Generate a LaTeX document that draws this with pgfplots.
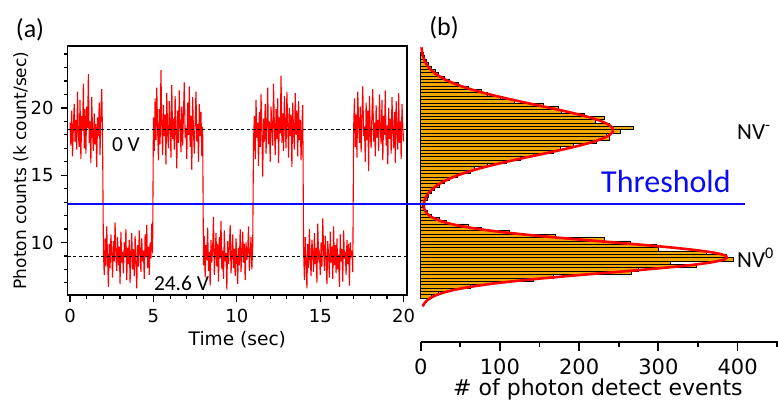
\documentclass[border=0pt]{standalone}
\usepackage{pgfplots}
\pgfplotsset{compat=1.18}
\usepackage{pgfplotstable}
\usepackage{fontspec}
\setmainfont{Carlito}
\newfontfamily\dv{DejaVu Sans}
\definecolor{barorange}{RGB}{240,168,0}
\definecolor{thrblue}{RGB}{10,10,245}

% histogram of photon counts (bin centre, events)
\pgfplotstableread{
y n
6.00 14
6.25 22
6.50 38
6.75 62
7.00 92
7.25 142
7.50 168
7.75 266
8.00 275
8.25 348
8.50 315
8.75 394
9.00 386
9.25 360
9.50 300
9.75 298
10.00 265
10.25 232
10.50 170
10.75 112
11.00 76
11.25 60
11.50 32
11.75 24
12.00 14
12.25 8
12.50 4
12.75 2
13.00 5
13.25 8
13.50 10
13.75 13
14.00 17
14.25 24
14.50 30
14.75 36
15.00 46
15.25 62
15.50 68
15.75 84
16.00 108
16.25 126
16.50 142
16.75 168
17.00 176
17.25 192
17.50 222
17.75 238
18.00 234
18.25 252
18.50 268
18.75 238
19.00 220
19.25 232
19.50 206
19.75 178
20.00 174
20.25 155
20.50 118
20.75 100
21.00 84
21.25 76
21.50 60
21.75 48
22.00 36
22.25 30
22.50 22
22.75 18
23.00 13
23.25 9
23.50 7
23.75 4
24.00 3
}\histdata

\begin{document}
\begin{tikzpicture}
\useasboundingbox (0,0) rectangle (389pt,200pt);

% (a) photon count trace
\begin{axis}[
  at={(33.85pt,52.5pt)}, anchor=south west,
  scale only axis, width=169.65pt, height=124.5pt,
  xmin=-0.14, xmax=20.2, ymin=6.1, ymax=24.6,
  xtick={0,5,10,15,20},
  minor xtick={1,2,3,4,6,7,8,9,11,12,13,14,16,17,18,19},
  ytick={10,15,20},
  minor ytick={7,8,9,11,12,13,14,16,17,18,19,21,22,23,24},
  tick align=outside, xtick pos=bottom, ytick pos=left,
  major tick length=3.5pt, minor tick length=2pt,
  axis line style={line width=0.7pt},
  every tick/.style={black, line width=0.6pt},
  ticklabel style={font=\dv\fontsize{9}{10}\selectfont},
  /pgf/number format/assume math mode=true,
  xlabel={Time (sec)}, ylabel={Photon counts (k count/sec)},
  xlabel style={font=\dv\fontsize{9.3}{11}\selectfont, at={(axis description cs:0.5,-0.178)}, anchor=center},
  ylabel style={font=\dv\fontsize{8.5}{10}\selectfont, at={(axis description cs:-0.1385,0.5)}, anchor=center},
  clip=false,
]
\addplot[red, line width=0.55pt] coordinates {
(0.00,18.9)(0.05,17.2)(0.10,19.8)(0.15,16.4)(0.20,18.6)(0.25,20.3)(0.30,17.5)(0.35,19.1)(0.40,16.9)(0.45,21.2)
(0.50,18.0)(0.55,17.1)(0.60,20.6)(0.65,16.2)(0.70,19.4)(0.75,18.3)(0.80,21.8)(0.85,17.0)(0.90,19.9)(0.95,16.6)
(1.00,20.1)(1.05,18.5)(1.10,22.5)(1.15,17.4)(1.20,19.0)(1.25,15.9)(1.30,20.8)(1.35,18.2)(1.40,16.8)(1.45,19.6)
(1.50,17.3)(1.55,18.8)(1.60,15.6)(1.65,19.3)(1.70,17.9)(1.75,20.4)(1.80,16.5)(1.85,19.7)(1.90,21.4)(1.95,17.8)
(2.00,9.4)(2.05,7.6)(2.10,10.3)(2.15,8.2)(2.20,11.2)(2.25,8.8)(2.30,6.7)(2.35,9.9)(2.40,8.1)(2.45,10.6)
(2.50,9.2)(2.55,7.4)(2.60,10.1)(2.65,8.6)(2.70,11.5)(2.75,9.0)(2.80,7.9)(2.85,10.4)(2.90,8.3)(2.95,9.7)
(3.00,6.9)(3.05,10.8)(3.10,8.5)(3.15,9.3)(3.20,7.7)(3.25,10.0)(3.30,8.9)(3.35,11.0)(3.40,7.2)(3.45,9.6)
(3.50,8.4)(3.55,10.2)(3.60,7.0)(3.65,9.1)(3.70,10.7)(3.75,8.0)(3.80,9.5)(3.85,7.5)(3.90,10.5)(3.95,8.7)
(4.00,6.6)(4.05,9.8)(4.10,8.2)(4.15,10.9)(4.20,9.3)(4.25,7.8)(4.30,10.3)(4.35,8.6)(4.40,9.4)(4.45,7.3)
(4.50,10.6)(4.55,8.9)(4.60,11.3)(4.65,8.1)(4.70,9.7)(4.75,7.6)(4.80,10.0)(4.85,8.8)(4.90,11.4)(4.95,9.2)
(5.00,19.3)(5.05,16.8)(5.10,20.7)(5.15,17.6)(5.20,21.5)(5.25,18.4)(5.30,16.1)(5.35,19.9)(5.40,17.3)(5.45,22.8)
(5.50,18.7)(5.55,16.5)(5.60,20.2)(5.65,17.9)(5.70,19.5)(5.75,15.8)(5.80,21.1)(5.85,18.1)(5.90,17.0)(5.95,20.5)
(6.00,18.9)(6.05,16.3)(6.10,21.7)(6.15,17.7)(6.20,19.2)(6.25,16.9)(6.30,20.9)(6.35,18.3)(6.40,15.5)(6.45,19.8)
(6.50,17.4)(6.55,21.3)(6.60,18.6)(6.65,16.7)(6.70,20.1)(6.75,17.2)(6.80,19.6)(6.85,21.9)(6.90,17.8)(6.95,18.5)
(7.00,16.2)(7.05,20.4)(7.10,18.0)(7.15,21.6)(7.20,17.1)(7.25,19.4)(7.30,15.4)(7.35,20.8)(7.40,18.2)(7.45,16.6)
(7.50,19.0)(7.55,21.2)(7.60,17.5)(7.65,18.8)(7.70,16.0)(7.75,20.3)(7.80,17.9)(7.85,19.7)(7.90,16.4)(7.95,18.6)
(8.00,8.3)(8.05,10.5)(8.10,7.4)(8.15,9.8)(8.20,8.7)(8.25,11.1)(8.30,7.9)(8.35,9.3)(8.40,6.8)(8.45,10.2)
(8.50,8.5)(8.55,9.6)(8.60,11.9)(8.65,7.6)(8.70,9.1)(8.75,10.7)(8.80,8.2)(8.85,9.9)(8.90,7.1)(8.95,10.4)
(9.00,8.8)(9.05,11.6)(9.10,8.0)(9.15,9.4)(9.20,7.3)(9.25,10.9)(9.30,8.6)(9.35,9.2)(9.40,6.5)(9.45,10.1)
(9.50,8.4)(9.55,9.7)(9.60,11.3)(9.65,7.7)(9.70,9.0)(9.75,10.6)(9.80,8.1)(9.85,9.5)(9.90,7.5)(9.95,10.3)
(10.00,8.9)(10.05,6.9)(10.10,9.6)(10.15,8.3)(10.20,11.0)(10.25,7.8)(10.30,9.2)(10.35,10.8)(10.40,8.5)(10.45,9.9)
(10.50,7.2)(10.55,10.0)(10.60,8.7)(10.65,9.4)(10.70,11.2)(10.75,7.9)(10.80,9.1)(10.85,10.4)(10.90,8.0)(10.95,9.6)
(11.00,17.6)(11.05,19.4)(11.10,16.2)(11.15,20.6)(11.20,17.8)(11.25,18.9)(11.30,15.7)(11.35,19.7)(11.40,17.1)(11.45,21.0)
(11.50,18.3)(11.55,14.9)(11.60,19.2)(11.65,17.5)(11.70,20.3)(11.75,16.6)(11.80,18.7)(11.85,21.5)(11.90,17.3)(11.95,19.0)
(12.00,16.0)(12.05,20.1)(12.10,18.4)(12.15,17.2)(12.20,21.8)(12.25,18.6)(12.30,16.5)(12.35,19.9)(12.40,17.7)(12.45,20.7)
(12.50,15.9)(12.55,19.3)(12.60,18.1)(12.65,22.4)(12.70,17.4)(12.75,19.6)(12.80,16.8)(12.85,20.9)(12.90,18.5)(12.95,17.0)
(13.00,21.2)(13.05,18.8)(13.10,16.3)(13.15,20.0)(13.20,17.9)(13.25,19.5)(13.30,15.6)(13.35,20.4)(13.40,18.2)(13.45,16.9)
(13.50,21.1)(13.55,18.0)(13.60,19.8)(13.65,16.4)(13.70,20.5)(13.75,17.6)(13.80,19.1)(13.85,16.1)(13.90,18.7)(13.95,20.2)
(14.00,9.5)(14.05,7.2)(14.10,10.4)(14.15,8.6)(14.20,6.6)(14.25,9.9)(14.30,8.1)(14.35,11.0)(14.40,8.8)(14.45,7.5)
(14.50,10.2)(14.55,9.3)(14.60,7.8)(14.65,10.7)(14.70,8.4)(14.75,9.6)(14.80,7.0)(14.85,11.4)(14.90,8.9)(14.95,9.2)
(15.00,7.6)(15.05,10.0)(15.10,8.2)(15.15,11.8)(15.20,9.4)(15.25,7.9)(15.30,10.5)(15.35,8.7)(15.40,6.9)(15.45,10.1)
(15.50,9.0)(15.55,7.4)(15.60,10.8)(15.65,8.5)(15.70,9.7)(15.75,7.3)(15.80,11.2)(15.85,8.3)(15.90,9.8)(15.95,7.7)
(16.00,10.3)(16.05,8.0)(16.10,9.1)(16.15,6.7)(16.20,10.6)(16.25,8.6)(16.30,9.5)(16.35,7.1)(16.40,10.9)(16.45,8.8)
(16.50,9.3)(16.55,7.6)(16.60,10.2)(16.65,8.4)(16.70,9.9)(16.75,6.8)(16.80,10.0)(16.85,8.9)(16.90,9.4)(16.95,7.8)
(17.00,18.4)(17.05,20.7)(17.10,17.1)(17.15,19.5)(17.20,16.3)(17.25,21.2)(17.30,18.8)(17.35,17.4)(17.40,20.1)(17.45,16.7)
(17.50,19.3)(17.55,21.6)(17.60,17.9)(17.65,18.6)(17.70,16.0)(17.75,20.4)(17.80,17.6)(17.85,19.8)(17.90,15.3)(17.95,20.9)
(18.00,18.2)(18.05,17.0)(18.10,19.6)(18.15,21.4)(18.20,17.5)(18.25,18.9)(18.30,16.4)(18.35,20.2)(18.40,17.8)(18.45,19.1)
(18.50,16.8)(18.55,21.0)(18.60,18.5)(18.65,17.3)(18.70,20.6)(18.75,16.1)(18.80,19.4)(18.85,18.0)(18.90,21.3)(18.95,17.2)
(19.00,18.7)(19.05,15.8)(19.10,20.0)(19.15,17.7)(19.20,19.2)(19.25,16.6)(19.30,20.8)(19.35,18.3)(19.40,17.0)(19.45,19.7)
(19.50,15.9)(19.55,20.5)(19.60,18.1)(19.65,16.9)(19.70,21.1)(19.75,17.4)(19.80,19.0)(19.85,16.2)(19.90,20.3)(19.95,18.6)
(20.00,17.5)
};
% mean levels
\addplot[black, line width=0.4pt, dash pattern=on 1.6pt off 1.2pt] coordinates {(-0.14,18.4) (20.2,18.4)};
\addplot[black, line width=0.4pt, dash pattern=on 1.6pt off 1.2pt] coordinates {(-0.14,8.94) (20.2,8.94)};
\node[font=\fontsize{10.7}{12}\selectfont] at (axis cs:3.35,17.27) {0 V};
\node[font=\fontsize{10.7}{12}\selectfont] at (axis cs:6.68,7.0) {24.6 V};
\end{axis}

% (b) histogram
\begin{axis}[
  at={(210.35pt,29.15pt)}, anchor=south west,
  scale only axis, width=178.65pt, height=147.85pt,
  xmin=0, xmax=451, ymin=2.63, ymax=24.6,
  axis x line*=bottom, axis y line=none,
  xtick={0,100,200,300,400}, minor xtick={50,150,250,350,450},
  tick align=outside, major tick length=4.5pt, minor tick length=2.5pt,
  axis line style={line width=1pt},
  every tick/.style={black, line width=0.9pt},
  xticklabel style={font=\dv\fontsize{10.5}{12}\selectfont, inner sep=0pt, yshift=-4pt},
  /pgf/number format/assume math mode=true,
  xlabel={\# of photon detect events},
  xlabel style={font=\dv\fontsize{11}{13}\selectfont, inner sep=0pt, at={(axis description cs:0.496,-0.162)}, anchor=center},
  clip=false,
]
\addplot[xbar, bar width=0.25, fill=barorange, draw=black, line width=0.3pt] table[x=n, y=y] {\histdata};
\addplot[red, line width=1.3pt, smooth] coordinates {
(2.5,5.25) (4.9,5.5) (9.1,5.75) (16.1,6.0) (27.2,6.25) (43.9,6.5) (67.4,6.75) (98.8,7.0)
(138.3,7.25) (184.4,7.5) (234.7,7.75) (284.9,8.0) (329.9,8.25) (364.3,8.5) (383.7,8.75)
(385.5,9.0) (369.5,9.25) (337.7,9.5) (294.5,9.75) (244.9,10.0) (194.3,10.25) (147.0,10.5)
(106.1,10.75) (73.2,11.0) (48.1,11.25) (30.3,11.5) (18.4,11.75) (10.9,12.0) (6.7,12.25)
(4.5,12.5) (3.9,12.75) (4.4,13.0) (5.7,13.25) (7.8,13.5) (11.0,13.75) (15.3,14.0) (20.8,14.25)
(27.9,14.5) (36.6,14.75) (47.1,15.0) (59.7,15.25) (74.2,15.5) (90.5,15.75) (108.5,16.0)
(127.6,16.25) (147.4,16.5) (167.2,16.75) (186.2,17.0) (203.6,17.25) (218.7,17.5) (230.6,17.75)
(238.7,18.0) (242.6,18.25) (242.2,18.5) (237.4,18.75) (228.5,19.0) (215.9,19.25) (200.3,19.5)
(182.5,19.75) (163.3,20.0) (143.4,20.25) (123.7,20.5) (104.8,20.75) (87.1,21.0) (71.1,21.25)
(57.0,21.5) (44.9,21.75) (34.7,22.0) (26.3,22.25) (19.6,22.5) (14.4,22.75) (10.3,23.0)
(7.3,23.25) (5.0,23.5) (3.4,23.75) (2.3,24.0) (1.5,24.25) (1.0,24.5)
};
% threshold across both panels
\addplot[thrblue, line width=1pt] coordinates {(-445.4,12.83) (409.5,12.83)};
\node[text=thrblue, font=\fontsize{16}{19}\selectfont] at (axis cs:309.5,14.52) {Threshold};
\node[anchor=west, inner sep=0pt, font=\fontsize{11.5}{13}\selectfont] at (axis cs:399,18.23) {NV\textsuperscript{-}};
\node[anchor=west, inner sep=0pt, font=\fontsize{11.5}{13}\selectfont] at (axis cs:399,8.86) {NV\textsuperscript{0}};
\end{axis}

\node[font=\fontsize{13}{15}\selectfont] at (15pt,185pt) {(a)};
\node[font=\fontsize{13}{15}\selectfont] at (222pt,186pt) {(b)};
\end{tikzpicture}
\end{document}
